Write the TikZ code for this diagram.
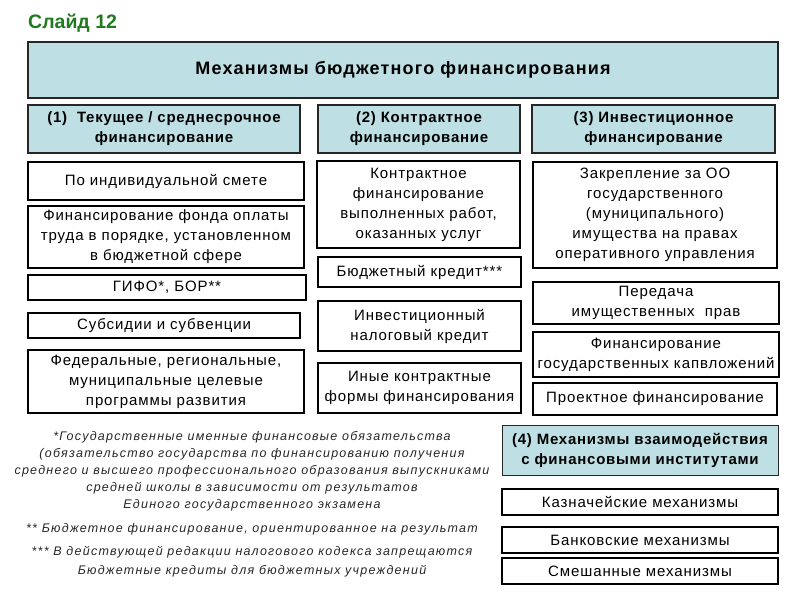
\documentclass[tikz,border=0pt]{standalone}
\usepackage{fontspec}
\setmainfont{Liberation Sans}
\newfontfamily\fnfont[LetterSpace=10]{Liberation Sans}
\newfontfamily\bodyfont[LetterSpace=6]{Liberation Sans}
\newfontfamily\hdrfont[LetterSpace=5]{Liberation Sans}
\newfontfamily\ttlfont[LetterSpace=6.5]{Liberation Sans}
\definecolor{hdrblue}{HTML}{BEDFE3}
\definecolor{slidegreen}{HTML}{1F7A1F}
\begin{document}
\begin{tikzpicture}[x=1pt,y=-1pt,
  hdr/.style={draw=black!85,line width=1.3pt,fill=hdrblue,inner sep=0pt,align=center,font=\fontsize{15}{20}\selectfont\hdrfont\bfseries},
  itembox/.style={draw=black,line width=2pt,fill=white,inner sep=0pt,align=center,font=\fontsize{15}{20}\selectfont\bodyfont},
  fnote/.style={inner sep=0pt,align=center,font=\fontsize{12.5}{17}\selectfont\fnfont\itshape,text=black!85}]
\useasboundingbox (0,0) rectangle (800,600);
\node[anchor=west,text=slidegreen,font=\fontsize{19.5}{22}\selectfont\bfseries,inner sep=0pt] (slide) at (28,23.5) {Слайд 12};
\node[hdr,minimum width=750pt,minimum height=56pt,font=\fontsize{18}{20}\selectfont\ttlfont\bfseries] (title) at (403,70) {Механизмы бюджетного финансирования};
\node[hdr,minimum width=272pt,minimum height=48pt] (h1) at (164,129) {(1)\ \ Текущее / среднесрочное\\финансирование};
\node[hdr,minimum width=202pt,minimum height=48pt] (h2) at (419,129) {(2) Контрактное\\финансирование};
\node[hdr,minimum width=243pt,minimum height=48pt] (h3) at (653.5,129) {(3) Инвестиционное\\финансирование};
\node[itembox,minimum width=276pt,minimum height=38pt] (l1) at (166,181) {По индивидуальной смете};
\node[itembox,minimum width=276pt,minimum height=62pt] (l2) at (166,237) {Финансирование фонда оплаты\\труда в порядке, установленном\\в бюджетной сфере};
\node[itembox,minimum width=278pt,minimum height=25pt] (l3) at (167,287.5) {ГИФО*, БОР**};
\node[itembox,minimum width=272pt,minimum height=25pt] (l4) at (164,325.5) {Субсидии и субвенции};
\node[itembox,minimum width=276pt,minimum height=63pt] (l5) at (166,381.5) {Федеральные, региональные,\\муниципальные целевые\\программы развития};
\node[itembox,minimum width=203pt,minimum height=87pt] (m1) at (418.5,204.5) {Контрактное\\финансирование\\выполненных работ,\\оказанных услуг};
\node[itembox,minimum width=203pt,minimum height=30pt] (m2) at (419.5,272) {Бюджетный кредит***};
\node[itembox,minimum width=203pt,minimum height=50pt] (m3) at (419.5,326) {Инвестиционный\\налоговый кредит};
\node[itembox,minimum width=203pt,minimum height=50pt] (m4) at (419.5,388) {Иные контрактные\\формы финансирования};
\node[itembox,minimum width=244pt,minimum height=106pt] (r1) at (655,215) {Закрепление за ОО\\государственного\\(муниципального)\\имущества на правах\\оперативного управления};
\node[itembox,minimum width=246pt,minimum height=42pt] (r2) at (656,303) {Передача\\имущественных\ \ прав};
\node[itembox,minimum width=246pt,minimum height=45pt] (r3) at (656,354.5) {Финансирование\\государственных капвложений};
\node[itembox,minimum width=244pt,minimum height=32pt] (r4) at (655,399) {Проектное финансирование};
\node[hdr,minimum width=276pt,minimum height=50pt,line width=1pt] (h4) at (640,450) {(4) Механизмы взаимодействия\\с финансовыми институтами};
\node[itembox,minimum width=276pt,minimum height=26pt] (b1) at (640,502) {Казначейские механизмы};
\node[itembox,minimum width=276pt,minimum height=26pt] (b2) at (640,540) {Банковские механизмы};
\node[itembox,minimum width=276pt,minimum height=26pt] (b3) at (640,571) {Смешанные механизмы};
\node[fnote,anchor=north] (f1) at (252,431.5) {*Государственные именные финансовые обязательства\\(обязательство государства по финансированию получения\\среднего и высшего профессионального образования выпускниками\\средней школы в зависимости от результатов\\Единого государственного экзамена};
\node[fnote] (f2) at (252,529) {** Бюджетное финансирование, ориентированное на результат};
\node[fnote,anchor=north,font=\fontsize{12.5}{19}\selectfont\fnfont\itshape] (f3) at (252,546.5) {*** В действующей редакции налогового кодекса запрещаются\\Бюджетные кредиты для бюджетных учреждений};
\end{tikzpicture}
\end{document}
